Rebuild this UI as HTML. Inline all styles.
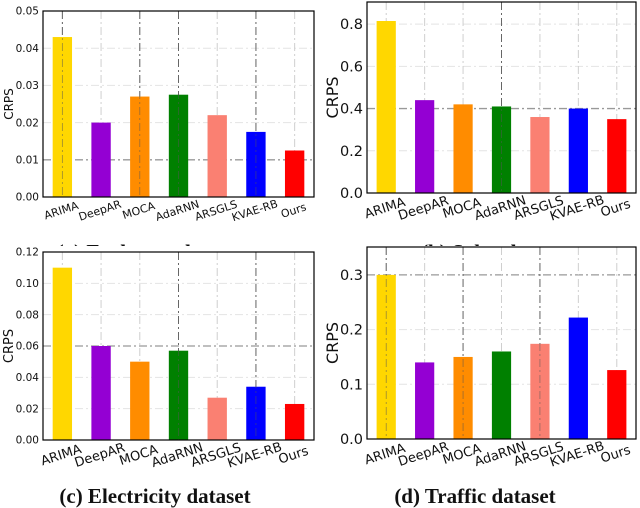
<!DOCTYPE html>
<html><head><meta charset="utf-8"><style>
html,body{margin:0;padding:0;background:#fff}
svg{display:block}
text{font-family:"DejaVu Sans","Liberation Sans",sans-serif;fill:#111}
.cap{font-family:"Liberation Serif",serif;font-weight:bold;font-size:21px}
</style></head><body>
<svg id="fig" width="640" height="508" viewBox="0 0 640 508">
<text class="cap" x="150" y="259" text-anchor="middle">(a) Exchange dataset</text>
<text class="cap" x="495" y="259" text-anchor="middle">(b) Solar dataset</text>
<rect x="0" y="246" width="640" height="262" fill="#fff"/>
<text class="cap" x="155" y="503" text-anchor="middle">(c) Electricity dataset</text>
<text class="cap" x="475" y="503" text-anchor="middle">(d) Traffic dataset</text>
</svg>
<script>
const categories = ["ARIMA","DeepAR","MOCA","AdaRNN","ARSGLS","KVAE-RB","Ours"];
const colors = ["#ffd700","#9400d3","#ff8c00","#008000","#fa8072","#0000ff","#ff0000"];
const exchangeValues = [0.043,0.020,0.027,0.0275,0.022,0.0175,0.0125];
const solarValues = [0.815,0.44,0.42,0.41,0.36,0.40,0.35];
const electricityValues = [0.110,0.060,0.050,0.057,0.027,0.034,0.023];
const trafficValues = [0.30,0.14,0.15,0.16,0.174,0.222,0.126];
const exchangeTicks = ["0.00","0.01","0.02","0.03","0.04","0.05"];
const solarTicks = ["0.0","0.2","0.4","0.6","0.8"];
const electricityTicks = ["0.00","0.02","0.04","0.06","0.08","0.10","0.12"];
const trafficTicks = ["0.0","0.1","0.2","0.3"];

const NS="http://www.w3.org/2000/svg";
const svg=document.getElementById('fig');
function mk(tag,attrs,parent){const e=document.createElementNS(NS,tag);for(const k in attrs)e.setAttribute(k,attrs[k]);(parent||svg).appendChild(e);return e;}

function chart(o){
  const g=mk('g',{});
  
  
  const bg=mk('rect',{x:o.l,y:o.t,width:o.r-o.l,height:o.b-o.t,fill:'#fff'},g);
  
  
  const y=v=>o.b-(v/o.max)*(o.b-o.t);
  const step=(o.r-o.l)/categories.length;
  const x=i=>o.l+step*(i+0.5);
  o.ticks.forEach(t=>{
    const v=parseFloat(t);const yy=y(v);
    if(v>0&&v<o.max){
      const dark=Math.abs(v-o.darkH)<1e-9;
      const ln=mk('line',{x1:o.l,x2:o.r,y1:yy,y2:yy,stroke:dark?'#999':'#e4e4e4','stroke-width':dark?1.3:1,'stroke-dasharray':'8,3,2,3'},g);
      
      
    }
  });
  categories.forEach((c,i)=>{
    const dark=o.darkV.includes(i);
    const ln=mk('line',{x1:x(i),x2:x(i),y1:o.t,y2:o.b,stroke:dark?'#777':'#cfcfcf','stroke-width':1,'stroke-dasharray':'8,3,2,3'},g);
    
    
  });
  o.values.forEach((v,i)=>{
    const bw=step*0.5;
    const b=mk('rect',{x:x(i)-bw/2,y:y(v),width:bw,height:o.b-y(v),fill:colors[i]},g);
    
    
  });
  categories.forEach((c,i)=>{
    if(o.darkV.includes(i)){
      const ln=mk('line',{x1:x(i),x2:x(i),y1:o.t,y2:o.b,stroke:'#555','stroke-width':0.8,'stroke-dasharray':'8,3,2,3','opacity':0.6},g);
      
      
    }
  });
  const fr=mk('rect',{x:o.l,y:o.t,width:o.r-o.l,height:o.b-o.t,fill:'none',stroke:'#000','stroke-width':1.2},g);
  
  
  o.ticks.forEach(t=>{
    const yy=y(parseFloat(t));
    const tx=mk('text',{x:o.l-4,y:yy+o.fs*0.35,'text-anchor':'end','font-size':o.fs},g);
    tx.textContent=t;
    
    
  });
  const yl=mk('text',{x:0,y:0,'text-anchor':'middle','font-size':o.yfs,transform:`translate(${o.ylx},${(o.t+o.b)/2}) rotate(-90)`},g);
  yl.textContent='CRPS';
  
  
  categories.forEach((c,i)=>{
    const tx=mk('text',{x:0,y:0,'text-anchor':'middle','font-size':o.xfs,transform:`translate(${x(i)},${o.b+o.xfs+6}) rotate(-18)`},g);
    tx.textContent=c;
    
    
  });
}
chart({name:'chart-exchange',l:43,r:314,t:11,b:197,max:0.05,values:exchangeValues,ticks:exchangeTicks,fs:10.5,xfs:11,yfs:12,ylx:13,darkH:0.01,darkV:[0,2,3,5]});
chart({name:'chart-solar',l:367,r:636,t:2,b:193,max:0.905,values:solarValues,ticks:solarTicks,fs:14.5,xfs:13,yfs:16,ylx:338,darkH:0.4,darkV:[3]});
chart({name:'chart-electricity',l:43,r:314,t:252,b:440,max:0.12,values:electricityValues,ticks:electricityTicks,fs:10.5,xfs:13,yfs:13,ylx:13,darkH:0.06,darkV:[3,5]});
chart({name:'chart-traffic',l:367,r:636,t:247,b:439,max:0.351,values:trafficValues,ticks:trafficTicks,fs:14.5,xfs:13,yfs:16,ylx:338,darkH:0.3,darkV:[0,2,4]});
</script>
</body></html>
